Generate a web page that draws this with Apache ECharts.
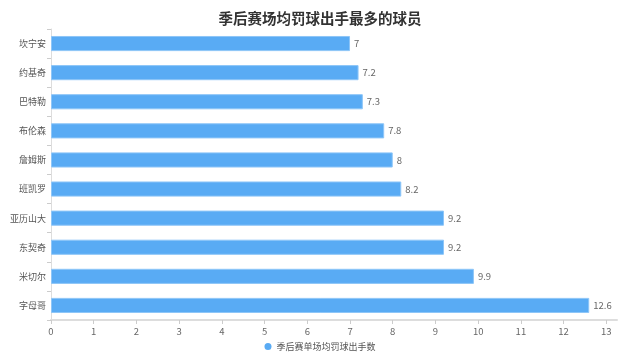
<!DOCTYPE html>
<html><head><meta charset="utf-8">
<script src="https://cdn.jsdelivr.net/npm/echarts@6/dist/echarts.min.js"></script>
<style>html,body{margin:0;padding:0;background:#fff}#c{width:640px;height:362px}</style>
</head><body><div id="c"></div>
<script>
var titleText = '季后赛场均罚球出手最多的球员';
var seriesName = '季后赛单场均罚球出手数';
var players = ['字母哥','米切尔','东契奇','亚历山大','班凯罗','詹姆斯','布伦森','巴特勒','约基奇','坎宁安'];
var values = [12.6, 9.9, 9.2, 9.2, 8.2, 8, 7.8, 7.3, 7.2, 7];
var xTicks = [0,1,2,3,4,5,6,7,8,9,10,11,12,13];

var chart = echarts.init(document.getElementById('c'), null, {renderer:'canvas'});
var font = "'Noto Sans CJK SC', sans-serif";
chart.setOption({
  animation: false,
  textStyle: {fontFamily: font},
  title: {text: titleText, left: 'center', top: 6,
    textStyle: {fontSize: 14.5, fontWeight: 'bold', color: '#333', fontFamily: font}},
  legend: {bottom: 6, left: 'center', itemWidth: 7, itemHeight: 7, icon: 'circle', itemGap: 10,
    itemStyle: {borderWidth: 0},
    textStyle: {fontSize: 9, color: '#555'}, data: [seriesName]},
  grid: {left: 51, right: 23, top: 29, bottom: 42, outerBoundsMode: 'none', containLabel: false},
  xAxis: {type: 'value', min: 0, max: 13.25,
    axisLine: {show: true, lineStyle: {color: '#ddd', width: 2}},
    axisTick: {show: true, customValues: xTicks, length: 4, lineStyle: {color: '#ccc'}},
    axisLabel: {customValues: xTicks, color: '#666', fontSize: 9.5, margin: 7},
    splitLine: {show: false}},
  yAxis: {type: 'category', data: players,
    axisLine: {show: true, lineStyle: {color: '#ddd'}},
    axisTick: {show: true, length: 4, lineStyle: {color: '#ccc'}},
    axisLabel: {color: '#555', fontSize: 9, margin: 5}},
  series: [{name: seriesName, type: 'bar', data: values, barWidth: '52%',
    itemStyle: {color: '#59abf4', borderColor: '#8ec6f8', borderWidth: 1},
    label: {show: true, position: 'right', color: '#666', fontSize: 9.5, distance: 4}}]
});
</script></body></html>
